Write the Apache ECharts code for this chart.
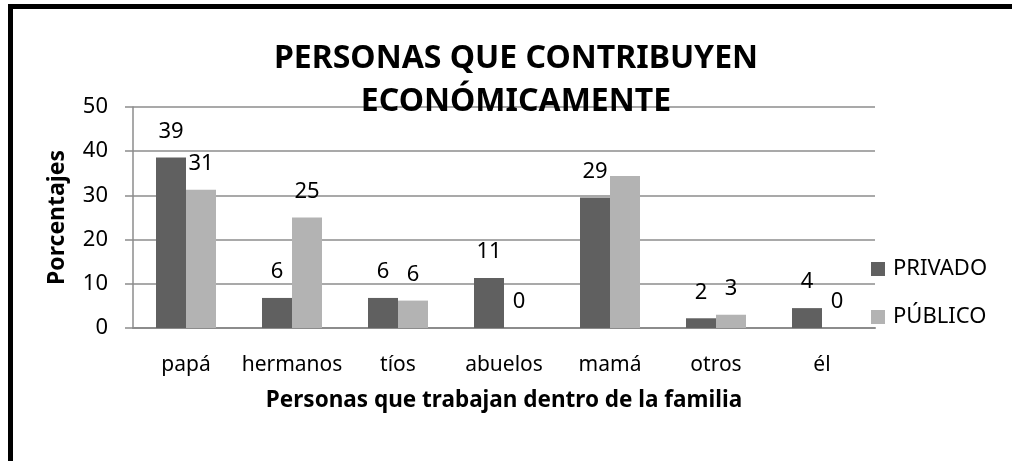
<!DOCTYPE html>
<html>
<head>
<meta charset="utf-8">
<script src="https://cdn.jsdelivr.net/npm/echarts@6/dist/echarts.min.js"></script>
<style>
html,body{margin:0;padding:0;background:#fff;}
#chart{width:1012px;height:461px;}
</style>
</head>
<body>
<div id="chart"></div>
<script>
const categories = ['papá', 'hermanos', 'tíos', 'abuelos', 'mamá', 'otros', 'él'];
const seriesNames = ['PRIVADO', 'PÚBLICO'];
const privadoValues = [38.6, 6.8, 6.8, 11.3, 29.5, 2.2, 4.5];
const publicoValues = [31.3, 25.0, 6.2, 0, 34.4, 3.0, 0];
const privadoLabels = ['39', '6', '6', '11', '29', '2', '4'];
const publicoLabels = ['31', '25', '6', '0', '', '3', '0'];
const yTicks = { min: 0, max: 50, interval: 10 };
const titleText = 'PERSONAS QUE CONTRIBUYEN\nECONÓMICAMENTE';
const xAxisTitle = 'Personas que trabajan dentro de la familia';
const yAxisTitle = 'Porcentajes';

const FONT = '"Noto Sans", "DejaVu Sans", sans-serif';
const gridColor = '#8c8c8c';

const chart = echarts.init(document.getElementById('chart'), null, { renderer: 'canvas' });

function labelCfg(labels) {
  return {
    show: true,
    position: 'top',
    distance: 15,
    fontFamily: FONT,
    fontSize: 22,
    color: '#000',
    formatter: p => labels[p.dataIndex]
  };
}

chart.setOption({
  backgroundColor: '#fff',
  animation: false,
  title: {
    text: titleText,
    left: 511,
    top: 32,
    textAlign: 'center',
    textStyle: {
      fontFamily: FONT,
      fontSize: 32,
      fontWeight: 'bold',
      color: '#000',
      lineHeight: 43
    }
  },
  legend: {
    orient: 'vertical',
    left: 871,
    top: 257,
    padding: 0,
    itemWidth: 14,
    itemHeight: 14,
    itemGap: 24,
    icon: 'rect',
    data: seriesNames,
    textStyle: {
      fontFamily: FONT,
      fontSize: 22,
      color: '#000',
      lineHeight: 24,
      padding: [0, 0, 0, 3]
    }
  },
  grid: {
    left: 133,
    right: 137,
    top: 107,
    bottom: 133,
    containLabel: false
  },
  xAxis: {
    type: 'category',
    data: categories,
    name: xAxisTitle,
    nameLocation: 'middle',
    nameGap: 61,
    nameTextStyle: {
      fontFamily: FONT,
      fontSize: 22.5,
      fontWeight: 'bold',
      color: '#000'
    },
    axisLine: { show: true, lineStyle: { color: gridColor, width: 2 } },
    axisTick: { show: false },
    axisLabel: {
      interval: 0,
      fontFamily: FONT,
      fontSize: 21,
      color: '#000',
      margin: 27
    }
  },
  yAxis: {
    type: 'value',
    min: yTicks.min,
    max: yTicks.max,
    interval: yTicks.interval,
    name: yAxisTitle,
    nameLocation: 'middle',
    nameGap: 64,
    nameRotate: 90,
    nameTextStyle: {
      fontFamily: FONT,
      fontSize: 23,
      fontWeight: 'bold',
      color: '#000'
    },
    axisLine: { show: true, lineStyle: { color: gridColor, width: 1.5 } },
    axisTick: { show: true, inside: false, length: 8, lineStyle: { color: gridColor, width: 1.5 } },
    splitLine: { show: true, lineStyle: { color: gridColor, width: 1.5 } },
    axisLabel: {
      fontFamily: FONT,
      fontSize: 22,
      color: '#000',
      margin: 25
    }
  },
  series: [
    {
      name: seriesNames[0],
      type: 'bar',
      data: privadoValues,
      barWidth: 30,
      barGap: '0%',
      itemStyle: { color: '#606060' },
      label: labelCfg(privadoLabels)
    },
    {
      name: seriesNames[1],
      type: 'bar',
      data: publicoValues,
      barWidth: 30,
      barGap: '0%',
      itemStyle: { color: '#b3b3b3' },
      label: labelCfg(publicoLabels)
    }
  ],
  graphic: [
    { type: 'line', shape: { x1: 8, y1: 6.5, x2: 1012, y2: 6.5 }, style: { stroke: '#000', lineWidth: 5 }, z: 100 },
    { type: 'line', shape: { x1: 10.5, y1: 4, x2: 10.5, y2: 461 }, style: { stroke: '#000', lineWidth: 5 }, z: 100 }
  ]
});
</script>
</body>
</html>
